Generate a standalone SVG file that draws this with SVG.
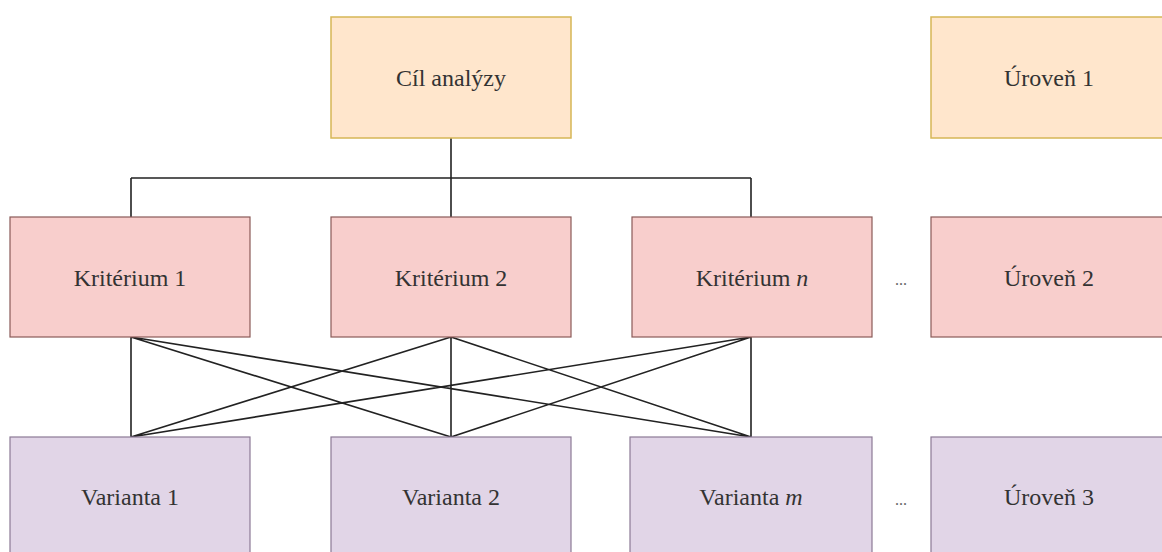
<svg xmlns="http://www.w3.org/2000/svg" width="1162" height="552" viewBox="0 0 1162 552">
<style>
.lvl1{fill:#ffe6cc;stroke:#d6b656;stroke-width:1.5}
.lvl2{fill:#f8cecc;stroke:#8a5a58;stroke-width:1.2}
.lvl3{fill:#e1d5e7;stroke:#8c7a96;stroke-width:1.2}
text{font-family:"Liberation Serif","Times New Roman",serif;font-size:24px;fill:#333;text-anchor:middle}
.dots{font-size:16px;fill:#666}
.conn{fill:none;stroke:#222;stroke-width:1.6}
</style>
<rect width="1162" height="552" fill="#fff"/>
<g id="connectors">
<path class="conn" d="M451,138 V178 M131,178 H751 M131,178 V217 M451,178 V217 M751,178 V217"/>
<path class="conn" d="M131,337 L131,437 M131,337 L451,437 M131,337 L751,437 M451,337 L131,437 M451,337 L451,437 M451,337 L751,437 M751,337 L131,437 M751,337 L451,437 M751,337 L751,437"/>
</g>
<g id="goal"><rect class="lvl1" x="331" y="17" width="240" height="121"/><text x="451" y="86">Cíl analýzy</text></g>
<g id="level1"><rect class="lvl1" x="931" y="17" width="240" height="121"/><text x="1049" y="86">Úroveň 1</text></g>
<g id="crit1"><rect class="lvl2" x="10" y="217" width="240" height="120"/><text x="130" y="286">Kritérium 1</text></g>
<g id="crit2"><rect class="lvl2" x="331" y="217" width="240" height="120"/><text x="451" y="286">Kritérium 2</text></g>
<g id="critn"><rect class="lvl2" x="632" y="217" width="240" height="120"/><text x="752" y="286">Kritérium <tspan font-style="italic">n</tspan></text></g>
<g id="dots2"><text class="dots" x="901" y="285">...</text></g>
<g id="level2"><rect class="lvl2" x="931" y="217" width="240" height="120"/><text x="1049" y="286">Úroveň 2</text></g>
<g id="var1"><rect class="lvl3" x="10" y="437" width="240" height="130"/><text x="130" y="505">Varianta 1</text></g>
<g id="var2"><rect class="lvl3" x="331" y="437" width="240" height="130"/><text x="451" y="505">Varianta 2</text></g>
<g id="varm"><rect class="lvl3" x="630" y="437" width="242" height="130"/><text x="751" y="505">Varianta <tspan font-style="italic">m</tspan></text></g>
<g id="dots3"><text class="dots" x="901" y="505">...</text></g>
<g id="level3"><rect class="lvl3" x="931" y="437" width="240" height="130"/><text x="1049" y="505">Úroveň 3</text></g>
</svg>
